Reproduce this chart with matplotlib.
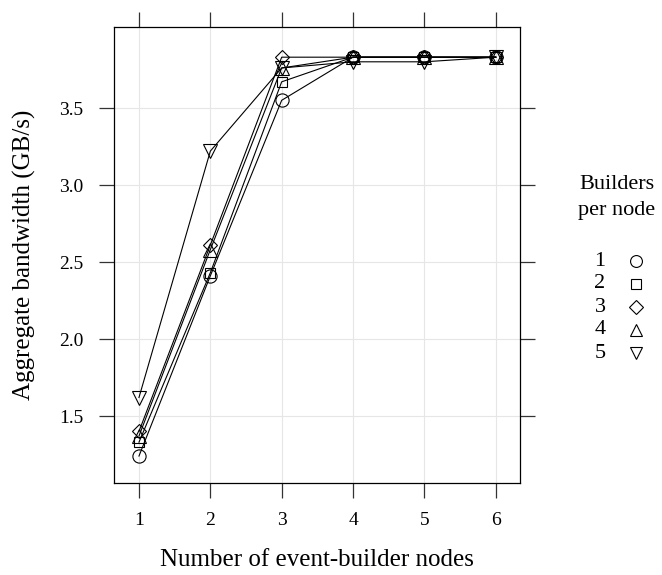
import numpy as np
import matplotlib
matplotlib.use('Agg')
import matplotlib.pyplot as plt
from matplotlib.lines import Line2D

plt.rcParams['font.family'] = ['Liberation Serif', 'DejaVu Serif']

nodes = [1, 2, 3, 4, 5, 6]
bw_1 = [1.24, 2.41, 3.55, 3.83, 3.83, 3.83]
bw_2 = [1.33, 2.43, 3.67, 3.83, 3.83, 3.83]
bw_3 = [1.40, 2.61, 3.83, 3.83, 3.83, 3.83]
bw_4 = [1.37, 2.58, 3.76, 3.83, 3.83, 3.83]
bw_5 = [1.62, 3.22, 3.76, 3.80, 3.80, 3.83]
labels = ['1', '2', '3', '4', '5']
markers = ['o', 's', 'D', '^', 'v']
values = [bw_1, bw_2, bw_3, bw_4, bw_5]
msize = {'o': 9.5, 's': 7.5, 'D': 7.5, '^': 10, 'v': 10}

W, H = 662, 575
fig = plt.figure(figsize=(W / 100, H / 100), dpi=100)
ax = fig.add_axes([114 / W, 1 - 483 / H, 406 / W, 456 / H])

for lab, vals, m in zip(labels, values, markers):
    ax.plot(nodes, vals, color='black', lw=0.8, marker=m, ms=msize[m],
            mfc='none', mec='black', mew=0.8)

ax.set_xlim(0.65, 6.34)
ax.set_ylim(1.065, 4.026)
ax.set_xticks(nodes)
ax.set_yticks([1.5, 2.0, 2.5, 3.0, 3.5])
ax.grid(True, color='#e6e6e6', lw=0.8)
ax.set_axisbelow(True)
ax.tick_params(direction='out', length=11, width=0.9, labelsize=14,
               top=True, right=True, color='#333333')
ax.tick_params(axis='x', pad=10)
ax.tick_params(axis='y', pad=11)
for s in ax.spines.values():
    s.set_linewidth(0.9)

# axis titles
fig.text(317 / W, 1 - 560 / H, 'Number of event-builder nodes', fontsize=18,
         ha='center', va='center')
fig.text(24 / W, 1 - 255 / H, 'Aggregate bandwidth (GB/s)', fontsize=18,
         ha='center', va='center', rotation=90)

# key
fig.text(617 / W, 1 - 185 / H, 'Builders', fontsize=16, ha='center', va='center')
fig.text(617 / W, 1 - 211 / H, 'per node', fontsize=16, ha='center', va='center')
for i, (lab, m) in enumerate(zip(labels, markers)):
    yy = 1 - (261 + 23 * i) / H
    fig.text(600 / W, yy, lab, fontsize=16, ha='center', va='center')
    fig.add_artist(Line2D([636 / W], [yy], transform=fig.transFigure, ls='none',
                          marker=m, ms=msize[m] * 0.9, mfc='none', mec='black',
                          mew=0.8))

fig.savefig('out.png', dpi=100)
